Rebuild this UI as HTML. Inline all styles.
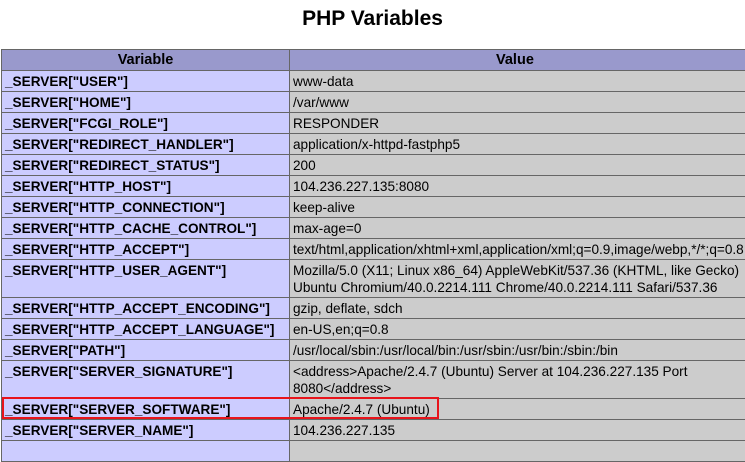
<!DOCTYPE html>
<html><head><meta charset="utf-8"><style>
body{margin:0;background:#fff;width:745px;height:441px;overflow:hidden;position:relative;font-family:"Liberation Sans",sans-serif;}
h2{margin:0;position:absolute;top:7px;left:0;width:745px;text-align:center;font-size:21px;font-weight:bold;}
table{position:absolute;left:1px;top:49px;border-collapse:collapse;width:770px;table-layout:fixed;font-size:13.6px;}
td,th{border:1px solid #666;padding:2px 3px 1px 3px;line-height:17px;vertical-align:top;color:#000;}
th{background:#9999cc;font-weight:bold;text-align:center;font-size:14.5px;}
td.e{background:#ccccff;font-weight:bold;}
td.v{background:#cccccc;}
tr{height:21px;}
.box{position:absolute;left:2px;top:397px;width:433px;height:18px;border:2px solid #e8141b;}
</style></head><body>
<h2>PHP Variables</h2>
<table>
<colgroup><col style="width:288px"><col></colgroup>
<tr><th>Variable</th><th style="text-align:left;padding-left:206px">Value</th></tr>
<tr><td class="e">_SERVER["USER"]</td><td class="v">www-data</td></tr>
<tr><td class="e">_SERVER["HOME"]</td><td class="v">/var/www</td></tr>
<tr><td class="e">_SERVER["FCGI_ROLE"]</td><td class="v">RESPONDER</td></tr>
<tr><td class="e">_SERVER["REDIRECT_HANDLER"]</td><td class="v">application/x-httpd-fastphp5</td></tr>
<tr><td class="e">_SERVER["REDIRECT_STATUS"]</td><td class="v">200</td></tr>
<tr><td class="e">_SERVER["HTTP_HOST"]</td><td class="v">104.236.227.135:8080</td></tr>
<tr><td class="e">_SERVER["HTTP_CONNECTION"]</td><td class="v">keep-alive</td></tr>
<tr><td class="e">_SERVER["HTTP_CACHE_CONTROL"]</td><td class="v">max-age=0</td></tr>
<tr><td class="e">_SERVER["HTTP_ACCEPT"]</td><td class="v" style="white-space:nowrap">text/html,application/xhtml+xml,application/xml;q=0.9,image/webp,*/*;q=0.8</td></tr>
<tr><td class="e">_SERVER["HTTP_USER_AGENT"]</td><td class="v">Mozilla/5.0 (X11; Linux x86_64) AppleWebKit/537.36 (KHTML, like Gecko)<br>Ubuntu Chromium/40.0.2214.111 Chrome/40.0.2214.111 Safari/537.36</td></tr>
<tr><td class="e">_SERVER["HTTP_ACCEPT_ENCODING"]</td><td class="v">gzip, deflate, sdch</td></tr>
<tr><td class="e">_SERVER["HTTP_ACCEPT_LANGUAGE"]</td><td class="v">en-US,en;q=0.8</td></tr>
<tr><td class="e">_SERVER["PATH"]</td><td class="v">/usr/local/sbin:/usr/local/bin:/usr/sbin:/usr/bin:/sbin:/bin</td></tr>
<tr><td class="e">_SERVER["SERVER_SIGNATURE"]</td><td class="v">&lt;address&gt;Apache/2.4.7 (Ubuntu) Server at 104.236.227.135 Port<br>8080&lt;/address&gt;</td></tr>
<tr><td class="e">_SERVER["SERVER_SOFTWARE"]</td><td class="v">Apache/2.4.7 (Ubuntu)</td></tr>
<tr><td class="e">_SERVER["SERVER_NAME"]</td><td class="v">104.236.227.135</td></tr>
<tr><td class="e">&nbsp;</td><td class="v">&nbsp;</td></tr>
</table>
<div class="box"></div>
</body></html>
